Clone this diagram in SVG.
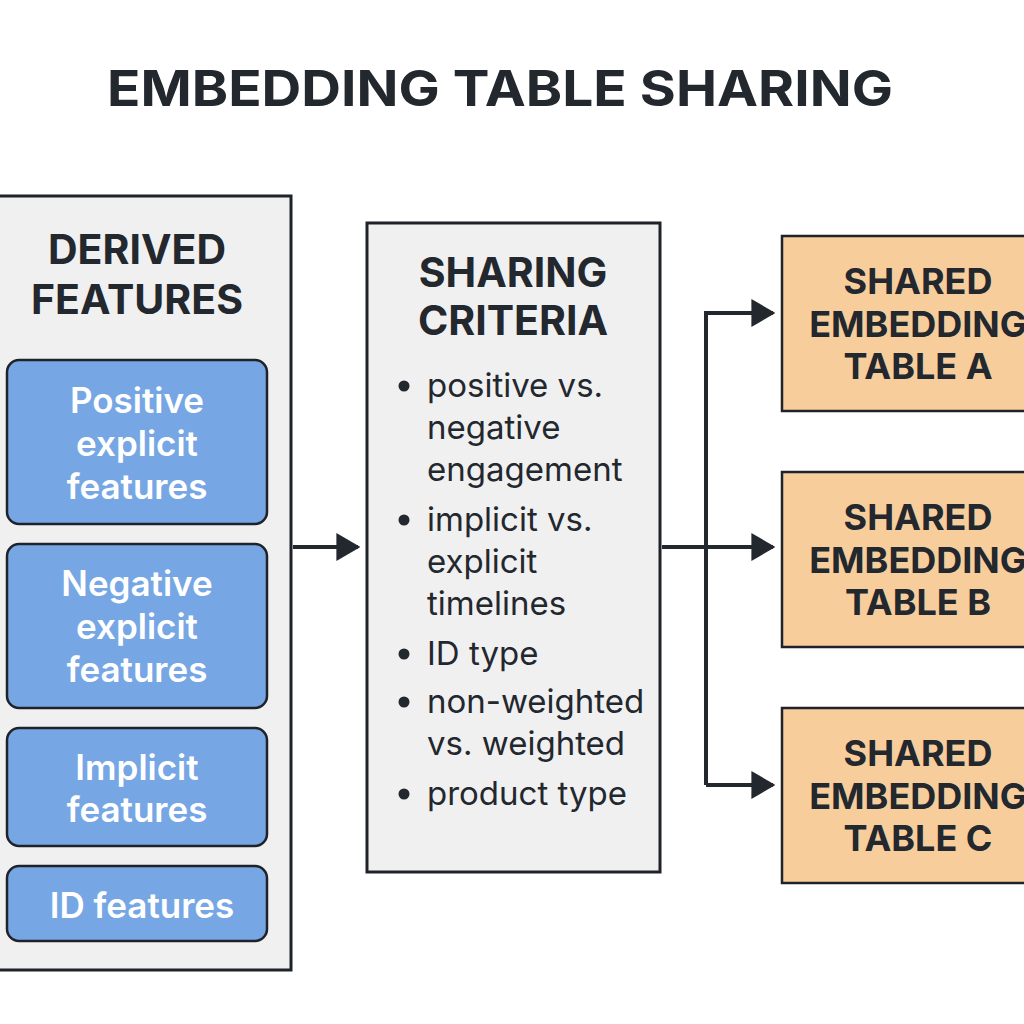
<svg xmlns="http://www.w3.org/2000/svg" width="1024" height="1024" viewBox="0 0 1024 1024">
<defs>
<style>
.panel{fill:#f0f0f0;stroke:#1f2329;stroke-width:3}
.blue{fill:#76a7e4;stroke:#1f2329;stroke-width:2.5}
.orange{fill:#f7cd9c;stroke:#1f2329;stroke-width:2.5}
.h{font-family:Inter,"Liberation Sans",sans-serif;font-weight:700;fill:#23272e;text-anchor:middle}
.w{font-family:Inter,"Liberation Sans",sans-serif;font-weight:600;fill:#ffffff;text-anchor:middle;font-size:35px}
.b{font-family:Inter,"Liberation Sans",sans-serif;font-weight:400;fill:#23272e;font-size:33px}
.c{fill:none;stroke:#23272e;stroke-width:4}
</style>
<marker id="ah" viewBox="0 0 10 10" refX="9" refY="5" markerWidth="24" markerHeight="28" markerUnits="userSpaceOnUse" orient="auto" preserveAspectRatio="none">
<path d="M0,0 L10,5 L0,10 Z" fill="#23272e"/>
</marker>
</defs>
<rect width="1024" height="1024" fill="#ffffff"/>
<text class="h" x="500" y="106" font-size="50" textLength="786" lengthAdjust="spacingAndGlyphs">EMBEDDING TABLE SHARING</text>

<g id="derived">
<rect class="panel" x="-10" y="196" width="301" height="774"/>
<text class="h" x="137" y="264" font-size="41">DERIVED</text>
<text class="h" x="137" y="314" font-size="41">FEATURES</text>
</g>
<g id="positive">
<rect class="blue" x="7" y="360" width="260" height="164" rx="12"/>
<text class="w" x="137" y="413">Positive</text>
<text class="w" x="137" y="456">explicit</text>
<text class="w" x="137" y="499">features</text>
</g>
<g id="negative">
<rect class="blue" x="7" y="544" width="260" height="164" rx="12"/>
<text class="w" x="137" y="596">Negative</text>
<text class="w" x="137" y="639">explicit</text>
<text class="w" x="137" y="682">features</text>
</g>
<g id="implicit">
<rect class="blue" x="7" y="728" width="260" height="118" rx="12"/>
<text class="w" x="137" y="780">Implicit</text>
<text class="w" x="137" y="822">features</text>
</g>
<g id="idfeat">
<rect class="blue" x="7" y="866" width="260" height="75" rx="12"/>
<text class="w" x="142" y="918">ID features</text>
</g>

<g id="criteria">
<rect class="panel" x="367" y="223" width="293" height="649"/>
<text class="h" x="513" y="287" font-size="41">SHARING</text>
<text class="h" x="513" y="335" font-size="41">CRITERIA</text>
<g fill="#23272e">
<circle cx="404" cy="386" r="5.5"/>
<circle cx="404" cy="520" r="5.5"/>
<circle cx="404" cy="654" r="5.5"/>
<circle cx="404" cy="702" r="5.5"/>
<circle cx="404" cy="794" r="5.5"/>
</g>
<text class="b" x="427" y="397">positive vs.</text>
<text class="b" x="427" y="439">negative</text>
<text class="b" x="427" y="481">engagement</text>
<text class="b" x="427" y="531">implicit vs.</text>
<text class="b" x="427" y="573">explicit</text>
<text class="b" x="427" y="615">timelines</text>
<text class="b" x="427" y="665">ID type</text>
<text class="b" x="427" y="713">non-weighted</text>
<text class="b" x="427" y="755">vs. weighted</text>
<text class="b" x="427" y="805">product type</text>
</g>

<g id="tableA">
<rect class="orange" x="782" y="236" width="260" height="175"/>
<text class="h" x="918" y="294" font-size="36">SHARED</text>
<text class="h" x="918" y="337" font-size="36">EMBEDDING</text>
<text class="h" x="918" y="379" font-size="36">TABLE A</text>
</g>
<g id="tableB">
<rect class="orange" x="782" y="472" width="260" height="175"/>
<text class="h" x="918" y="530" font-size="36">SHARED</text>
<text class="h" x="918" y="573" font-size="36">EMBEDDING</text>
<text class="h" x="918" y="615" font-size="36">TABLE B</text>
</g>
<g id="tableC">
<rect class="orange" x="782" y="708" width="260" height="175"/>
<text class="h" x="918" y="766" font-size="36">SHARED</text>
<text class="h" x="918" y="809" font-size="36">EMBEDDING</text>
<text class="h" x="918" y="851" font-size="36">TABLE C</text>
</g>

<g id="connectors">
<path class="c" d="M293,547 H358" marker-end="url(#ah)"/>
<path class="c" d="M662,547 H773" marker-end="url(#ah)"/>
<path class="c" d="M706,785 V313 H773" marker-end="url(#ah)"/>
<path class="c" d="M706,785 H773" marker-end="url(#ah)"/>
</g>
</svg>
